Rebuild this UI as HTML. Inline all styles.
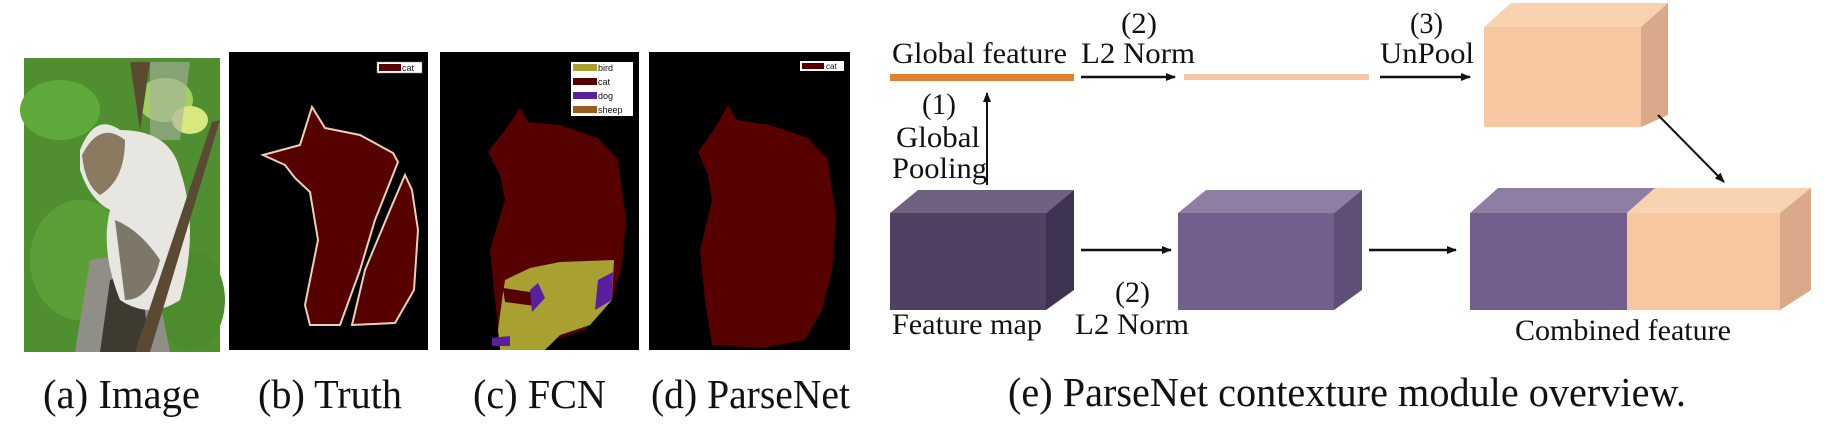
<!DOCTYPE html>
<html><head><meta charset="utf-8"><style>
html,body{margin:0;padding:0;background:#fff;}
svg{display:block;}
text{font-family:"Liberation Serif",serif;fill:#111;}
</style></head><body>
<svg width="1825" height="444" viewBox="0 0 1825 444" xmlns="http://www.w3.org/2000/svg">
<defs>
<marker id="ah" markerWidth="10" markerHeight="10" refX="9" refY="5" orient="auto" markerUnits="userSpaceOnUse">
<path d="M0,1 L10,5 L0,9 Z" fill="#111"/></marker>
</defs>
<!-- (a) image -->
<rect x="24" y="58" width="196" height="294" fill="#4f8f30"/>
<ellipse cx="60" cy="110" rx="40" ry="30" fill="#5fa83a"/>
<ellipse cx="80" cy="260" rx="50" ry="60" fill="#5aa036"/>
<ellipse cx="190" cy="300" rx="35" ry="50" fill="#4c8c2c"/>
<ellipse cx="165" cy="100" rx="28" ry="22" fill="#9fd060"/>
<ellipse cx="190" cy="120" rx="18" ry="14" fill="#d8e880"/>
<path d="M130 62 L150 62 L140 130 Z" fill="#5a4a30"/>
<path d="M150 62 L190 62 L180 140 L150 140 Z" fill="#aab0a0" opacity="0.6"/>
<path d="M90 260 L150 250 L170 352 L75 352 Z" fill="#8f8f88"/>
<path d="M110 280 L140 270 L150 352 L100 352 Z" fill="#3f3a30"/>
<path d="M80 150 Q95 112 120 130 Q170 130 180 170 Q200 230 180 300 Q150 320 120 300 Q100 250 110 210 Q90 200 80 170 Z" fill="#e8e6e0"/>
<path d="M82 155 Q100 120 125 140 Q125 180 100 195 Q85 185 82 155 Z" fill="#8a7a60"/>
<path d="M115 220 Q140 230 160 260 Q150 300 125 300 Z" fill="#7d7768"/>
<path d="M220 120 L212 122 L135 352 L150 352 Z" fill="#5a4a33"/>
<!-- (b) Truth -->
<rect x="229" y="52" width="199" height="298" fill="#000"/>
<path d="M263 155 L300 145 L312 107 L325 128 L360 135 L393 153 L398 162 L375 220 L360 270 L340 325 L310 325 L305 305 L318 240 L310 192 L295 178 L285 165 Z" fill="#560000" stroke="#ead0b8" stroke-width="2"/>
<path d="M405 175 L412 190 L418 230 L414 290 L395 323 L352 325 L365 270 L390 210 Z" fill="#560000" stroke="#ead0b8" stroke-width="2"/>
<rect x="377" y="62" width="45" height="11" fill="#fff" stroke="#888" stroke-width="0.5"/>
<rect x="379" y="64" width="22" height="7" fill="#560000"/>
<text x="402" y="71" font-size="9" style="font-family:'Liberation Sans',sans-serif">cat</text>
<!-- (c) FCN -->
<rect x="440" y="52" width="199" height="298" fill="#000"/>
<path d="M488 152 L505 130 L520 108 L528 122 L560 125 L598 138 L618 160 L626 220 L622 265 L612 300 L585 330 L520 350 L500 345 L495 300 L490 250 L505 200 L500 175 Z" fill="#560000"/>
<path d="M505 280 L530 268 L560 262 L614 260 L612 300 L590 325 L560 335 L545 350 L500 350 L498 330 L502 300 Z" fill="#a8a030"/>
<path d="M503 288 L530 292 L540 298 L535 306 L505 302 Z" fill="#560000"/>
<path d="M530 290 L538 283 L545 298 L532 312 Z" fill="#5a1fa0"/>
<path d="M598 280 L613 272 L612 300 L595 310 Z" fill="#5a1fa0"/>
<path d="M492 338 L510 336 L510 346 L492 346 Z" fill="#5a1fa0"/>
<rect x="571" y="62" width="62" height="54" fill="#fff"/>
<rect x="573" y="64" width="24" height="7" fill="#a8a030"/>
<rect x="573" y="78" width="24" height="7" fill="#560000"/>
<rect x="573" y="92" width="24" height="7" fill="#5a1fa0"/>
<rect x="573" y="106" width="24" height="7" fill="#9a5a20"/>
<text x="598" y="71" font-size="9" style="font-family:'Liberation Sans',sans-serif">bird</text>
<text x="598" y="85" font-size="9" style="font-family:'Liberation Sans',sans-serif">cat</text>
<text x="598" y="99" font-size="9" style="font-family:'Liberation Sans',sans-serif">dog</text>
<text x="598" y="113" font-size="9" style="font-family:'Liberation Sans',sans-serif">sheep</text>
<!-- (d) ParseNet -->
<rect x="649" y="52" width="201" height="298" fill="#000"/>
<path d="M698 152 L715 128 L728 105 L737 120 L770 125 L808 138 L828 160 L836 220 L832 270 L822 310 L805 340 L760 348 L712 345 L705 300 L700 250 L712 200 L708 175 Z" fill="#560000"/>
<rect x="800" y="61" width="44" height="10" fill="#fff"/>
<rect x="802" y="63" width="22" height="6" fill="#560000"/>
<text x="826" y="69" font-size="8" style="font-family:'Liberation Sans',sans-serif">cat</text>
<!-- captions -->
<text x="43" y="408" font-size="41" textLength="157" lengthAdjust="spacingAndGlyphs">(a) Image</text>
<text x="258" y="408" font-size="41" textLength="144" lengthAdjust="spacingAndGlyphs">(b) Truth</text>
<text x="473" y="408" font-size="41" textLength="133" lengthAdjust="spacingAndGlyphs">(c) FCN</text>
<text x="651" y="408" font-size="41" textLength="199" lengthAdjust="spacingAndGlyphs">(d) ParseNet</text>
<text x="1008" y="406" font-size="41" textLength="678" lengthAdjust="spacingAndGlyphs">(e) ParseNet contexture module overview.</text>
<!-- (e) diagram top row -->
<text x="892" y="63" font-size="30" textLength="175" lengthAdjust="spacingAndGlyphs">Global feature</text>
<text x="1121" y="33" font-size="30" textLength="36" lengthAdjust="spacingAndGlyphs">(2)</text>
<text x="1081" y="63" font-size="30" textLength="114" lengthAdjust="spacingAndGlyphs">L2 Norm</text>
<text x="1410" y="33" font-size="30" textLength="33" lengthAdjust="spacingAndGlyphs">(3)</text>
<text x="1380" y="63" font-size="30" textLength="94" lengthAdjust="spacingAndGlyphs">UnPool</text>
<rect x="890" y="74" width="184" height="7" fill="#e0832f"/>
<line x1="1081" y1="77" x2="1175" y2="77" stroke="#111" stroke-width="2.5" marker-end="url(#ah)"/>
<rect x="1184" y="74" width="185" height="6" fill="#f6c6a2"/>
<line x1="1380" y1="77" x2="1470" y2="77" stroke="#111" stroke-width="2.5" marker-end="url(#ah)"/>
<!-- peach cube -->
<polygon points="1484,27 1511,3 1668,3 1641,27" fill="#f9d2b0"/>
<polygon points="1641,27 1668,3 1668,115 1641,127" fill="#d9a98a"/>
<rect x="1484" y="27" width="157" height="100" fill="#f7c7a1"/>
<line x1="1658" y1="115" x2="1724" y2="182" stroke="#111" stroke-width="2" marker-end="url(#ah)"/>
<!-- up arrow & labels -->
<line x1="987" y1="185" x2="987" y2="93" stroke="#111" stroke-width="2" marker-end="url(#ah)"/>
<text x="922" y="114" font-size="30" textLength="34" lengthAdjust="spacingAndGlyphs">(1)</text>
<text x="896" y="147" font-size="30" textLength="84" lengthAdjust="spacingAndGlyphs">Global</text>
<text x="892" y="178" font-size="30" textLength="95" lengthAdjust="spacingAndGlyphs">Pooling</text>
<!-- feature map cube -->
<polygon points="890,213 918,190 1074,190 1046,213" fill="#6f6281"/>
<polygon points="1046,213 1074,190 1074,290 1046,310" fill="#3e3350"/>
<rect x="890" y="213" width="156" height="97" fill="#504162"/>
<line x1="1081" y1="250" x2="1171" y2="250" stroke="#111" stroke-width="2.5" marker-end="url(#ah)"/>
<text x="1115" y="302" font-size="30" textLength="35" lengthAdjust="spacingAndGlyphs">(2)</text>
<text x="1075" y="334" font-size="30" textLength="114" lengthAdjust="spacingAndGlyphs">L2 Norm</text>
<text x="892" y="334" font-size="30" textLength="150" lengthAdjust="spacingAndGlyphs">Feature map</text>
<!-- cube2 -->
<polygon points="1178,213 1206,190 1362,190 1334,213" fill="#8e7ea4"/>
<polygon points="1334,213 1362,190 1362,290 1334,310" fill="#5f4f78"/>
<rect x="1178" y="213" width="156" height="97" fill="#745e8e"/>
<line x1="1369" y1="250" x2="1456" y2="250" stroke="#111" stroke-width="2.5" marker-end="url(#ah)"/>
<!-- combined -->
<polygon points="1470,213 1498,188 1655,188 1627,213" fill="#8e7ea4"/>
<polygon points="1627,213 1655,188 1811,188 1780,213" fill="#f9d2b0"/>
<polygon points="1780,213 1811,188 1811,290 1780,310" fill="#d9a98a"/>
<rect x="1470" y="213" width="157" height="97" fill="#745e8e"/>
<rect x="1627" y="213" width="153" height="97" fill="#f7c7a1"/>
<text x="1515" y="340" font-size="30" textLength="216" lengthAdjust="spacingAndGlyphs">Combined feature</text>
</svg>
</body></html>
